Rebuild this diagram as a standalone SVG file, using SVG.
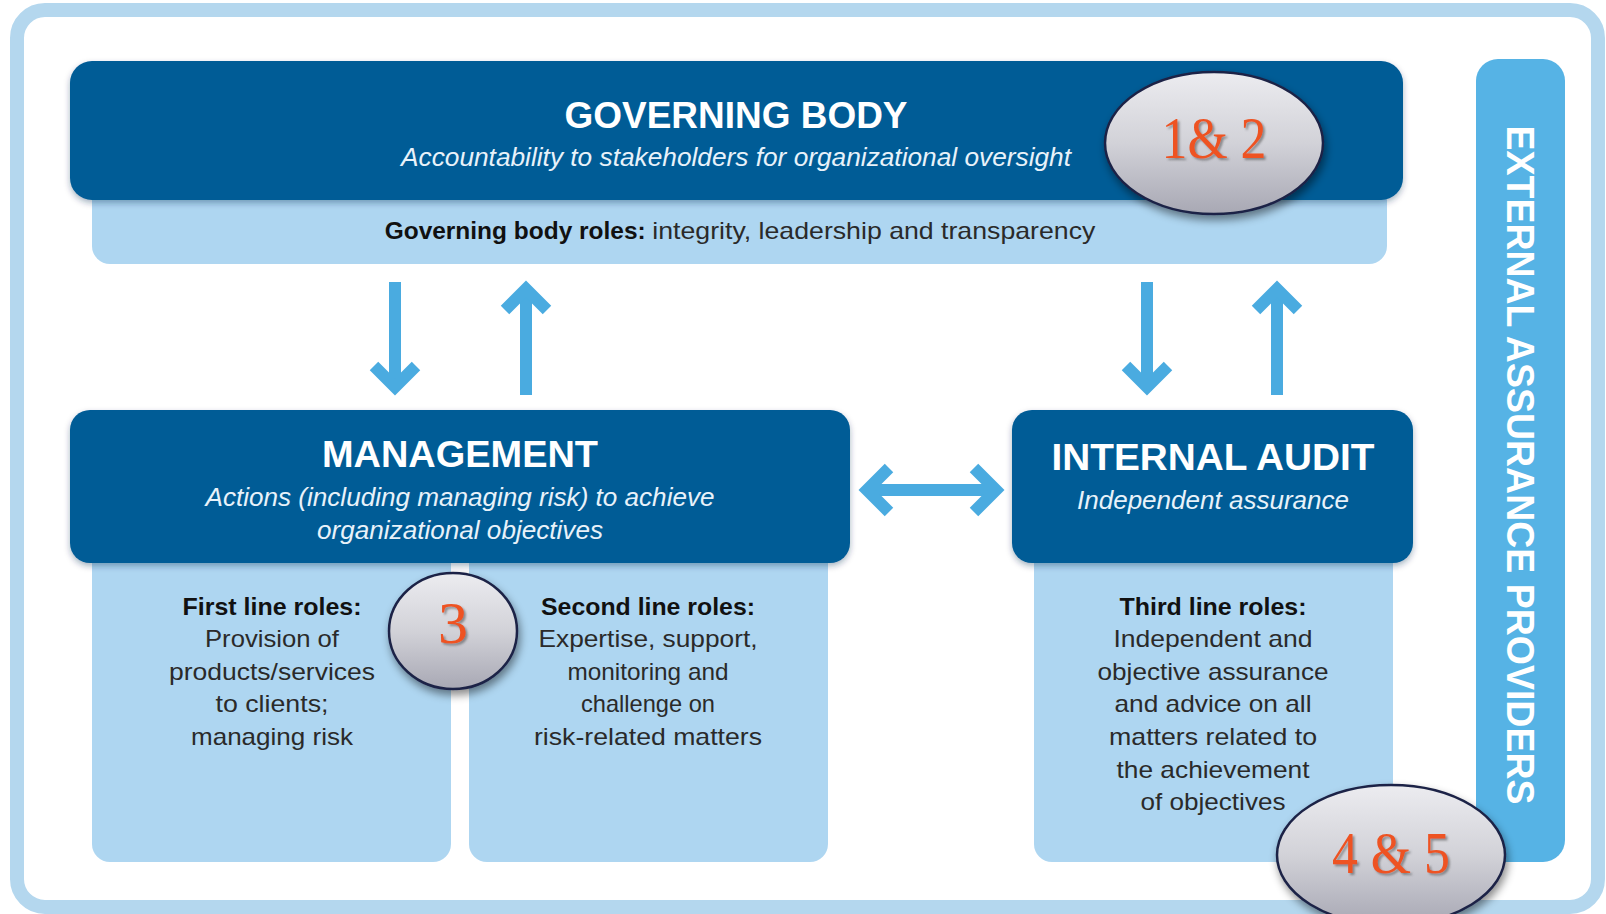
<svg xmlns="http://www.w3.org/2000/svg" width="1606" height="914" viewBox="0 0 1606 914">
<defs>
<style>
.dark{fill:#005b96;}
.light{fill:#aed6f1;}
.h{font-family:"Liberation Sans",Arial,sans-serif;font-weight:bold;font-size:37px;fill:#ffffff;text-anchor:middle;}
.sub{font-family:"Liberation Sans",Arial,sans-serif;font-style:italic;font-size:25px;fill:#e8f2fa;text-anchor:middle;}
.body{font-family:"Liberation Sans",Arial,sans-serif;font-size:24px;fill:#2a2a2a;text-anchor:middle;}
.bold{font-weight:bold;fill:#111111;}
.arrow{fill:none;stroke:#4aabe0;stroke-width:12;stroke-linejoin:miter;stroke-linecap:butt;}
.badge{fill:url(#bg);stroke:#1c2446;stroke-width:2.5;}
.num{font-family:"Liberation Serif","Times New Roman",serif;font-size:60px;fill:#ee5322;text-anchor:middle;}
</style>
<linearGradient id="bg" x1="0" y1="0" x2="0" y2="1">
<stop offset="0" stop-color="#ececf0"/>
<stop offset="0.5" stop-color="#d2d2d8"/>
<stop offset="1" stop-color="#a8a8b4"/>
</linearGradient>
<filter id="sh" x="-20%" y="-20%" width="140%" height="150%">
<feDropShadow dx="2" dy="5" stdDeviation="4" flood-color="#000000" flood-opacity="0.45"/>
</filter>
<filter id="bsh" x="-5%" y="-10%" width="110%" height="125%">
<feDropShadow dx="0" dy="3" stdDeviation="3" flood-color="#002a50" flood-opacity="0.35"/>
</filter>
<filter id="tsh" x="-10%" y="-10%" width="130%" height="130%">
<feDropShadow dx="2" dy="2" stdDeviation="1.2" flood-color="#555555" flood-opacity="0.6"/>
</filter>
</defs>

<rect width="1606" height="914" fill="#ffffff"/>
<rect id="frame" x="17" y="10" width="1581" height="897" rx="28" fill="#ffffff" stroke="#b4d7ee" stroke-width="14"/>

<g id="governing-body">
<rect class="light" x="92" y="170" width="1295" height="94" rx="18"/>
<rect class="dark" x="70" y="61" width="1333" height="139" rx="22" filter="url(#bsh)"/>
<text class="h" x="736" y="128" textLength="343" lengthAdjust="spacingAndGlyphs">GOVERNING BODY</text>
<text class="sub" x="736" y="166" textLength="670" lengthAdjust="spacingAndGlyphs">Accountability to stakeholders for organizational oversight</text>
<text class="body" x="740" y="239"><tspan class="bold" textLength="261" lengthAdjust="spacingAndGlyphs">Governing body roles:</tspan> <tspan textLength="443" lengthAdjust="spacingAndGlyphs">integrity, leadership and transparency</tspan></text>
</g>

<g id="management">
<rect class="light" x="92" y="530" width="359" height="332" rx="18"/>
<rect class="light" x="469" y="530" width="359" height="332" rx="18"/>
<rect class="dark" x="70" y="410" width="780" height="153" rx="20" filter="url(#bsh)"/>
<text class="h" x="460" y="467" textLength="276" lengthAdjust="spacingAndGlyphs">MANAGEMENT</text>
<text class="sub" x="460" y="506" textLength="509" lengthAdjust="spacingAndGlyphs">Actions (including managing risk) to achieve</text>
<text class="sub" x="460" y="539" textLength="286" lengthAdjust="spacingAndGlyphs">organizational objectives</text>
<text class="body bold" x="272" y="615" textLength="179" lengthAdjust="spacingAndGlyphs">First line roles:</text>
<text class="body" x="272" y="647" textLength="134" lengthAdjust="spacingAndGlyphs">Provision of</text>
<text class="body" x="272" y="680" textLength="206" lengthAdjust="spacingAndGlyphs">products/services</text>
<text class="body" x="272" y="712" textLength="113" lengthAdjust="spacingAndGlyphs">to clients;</text>
<text class="body" x="272" y="745" textLength="162" lengthAdjust="spacingAndGlyphs">managing risk</text>
<text class="body bold" x="648" y="615" textLength="214" lengthAdjust="spacingAndGlyphs">Second line roles:</text>
<text class="body" x="648" y="647" textLength="219" lengthAdjust="spacingAndGlyphs">Expertise, support,</text>
<text class="body" x="648" y="680" textLength="161" lengthAdjust="spacingAndGlyphs">monitoring and</text>
<text class="body" x="648" y="712" textLength="134" lengthAdjust="spacingAndGlyphs">challenge on</text>
<text class="body" x="648" y="745" textLength="228" lengthAdjust="spacingAndGlyphs">risk-related matters</text>
</g>

<g id="internal-audit">
<rect class="light" x="1034" y="530" width="359" height="332" rx="18"/>
<rect class="dark" x="1012" y="410" width="401" height="153" rx="20" filter="url(#bsh)"/>
<text class="h" x="1213" y="470" textLength="323" lengthAdjust="spacingAndGlyphs">INTERNAL AUDIT</text>
<text class="sub" x="1213" y="509" textLength="272" lengthAdjust="spacingAndGlyphs">Independent assurance</text>
<text class="body bold" x="1213" y="615" textLength="187" lengthAdjust="spacingAndGlyphs">Third line roles:</text>
<text class="body" x="1213" y="647" textLength="199" lengthAdjust="spacingAndGlyphs">Independent and</text>
<text class="body" x="1213" y="680" textLength="231" lengthAdjust="spacingAndGlyphs">objective assurance</text>
<text class="body" x="1213" y="712" textLength="197" lengthAdjust="spacingAndGlyphs">and advice on all</text>
<text class="body" x="1213" y="745" textLength="208" lengthAdjust="spacingAndGlyphs">matters related to</text>
<text class="body" x="1213" y="778" textLength="193" lengthAdjust="spacingAndGlyphs">the achievement</text>
<text class="body" x="1213" y="810" textLength="145" lengthAdjust="spacingAndGlyphs">of objectives</text>
</g>

<g id="external-assurance">
<rect x="1476" y="59" width="89" height="803" rx="22" fill="#56b3e5"/>
<text transform="translate(1520,465) rotate(90)" x="0" y="13" font-family="'Liberation Sans',Arial,sans-serif" font-weight="bold" font-size="38" fill="#ffffff" text-anchor="middle" textLength="679" lengthAdjust="spacingAndGlyphs">EXTERNAL ASSURANCE PROVIDERS</text>
</g>

<g id="connectors">
<line class="arrow" x1="395" y1="282" x2="395" y2="388"/>
<polyline class="arrow" points="374,366 395,387 416,366"/>
<line class="arrow" x1="526" y1="395" x2="526" y2="288"/>
<polyline class="arrow" points="505,310 526,289 547,310"/>
<line class="arrow" x1="1147" y1="282" x2="1147" y2="388"/>
<polyline class="arrow" points="1126,366 1147,387 1168,366"/>
<line class="arrow" x1="1277" y1="395" x2="1277" y2="288"/>
<polyline class="arrow" points="1256,310 1277,289 1298,310"/>
<line class="arrow" x1="866" y1="490" x2="997" y2="490" stroke-width="13"/>
<polyline class="arrow" points="889,468 867,490 889,512"/>
<polyline class="arrow" points="974,468 996,490 974,512"/>
</g>

<g id="badge-1-2">
<ellipse class="badge" cx="1214" cy="143" rx="109" ry="71" filter="url(#sh)"/>
<text class="num" x="1214" y="158" textLength="105" lengthAdjust="spacingAndGlyphs" filter="url(#tsh)">1&amp; 2</text>
</g>
<g id="badge-3">
<ellipse class="badge" cx="453" cy="631" rx="64" ry="58" filter="url(#sh)"/>
<text class="num" x="453" y="643" filter="url(#tsh)">3</text>
</g>
<g id="badge-4-5">
<ellipse class="badge" cx="1391" cy="855" rx="114" ry="70" filter="url(#sh)"/>
<text class="num" x="1391" y="873" textLength="118" lengthAdjust="spacingAndGlyphs" filter="url(#tsh)">4 &amp; 5</text>
</g>
</svg>
